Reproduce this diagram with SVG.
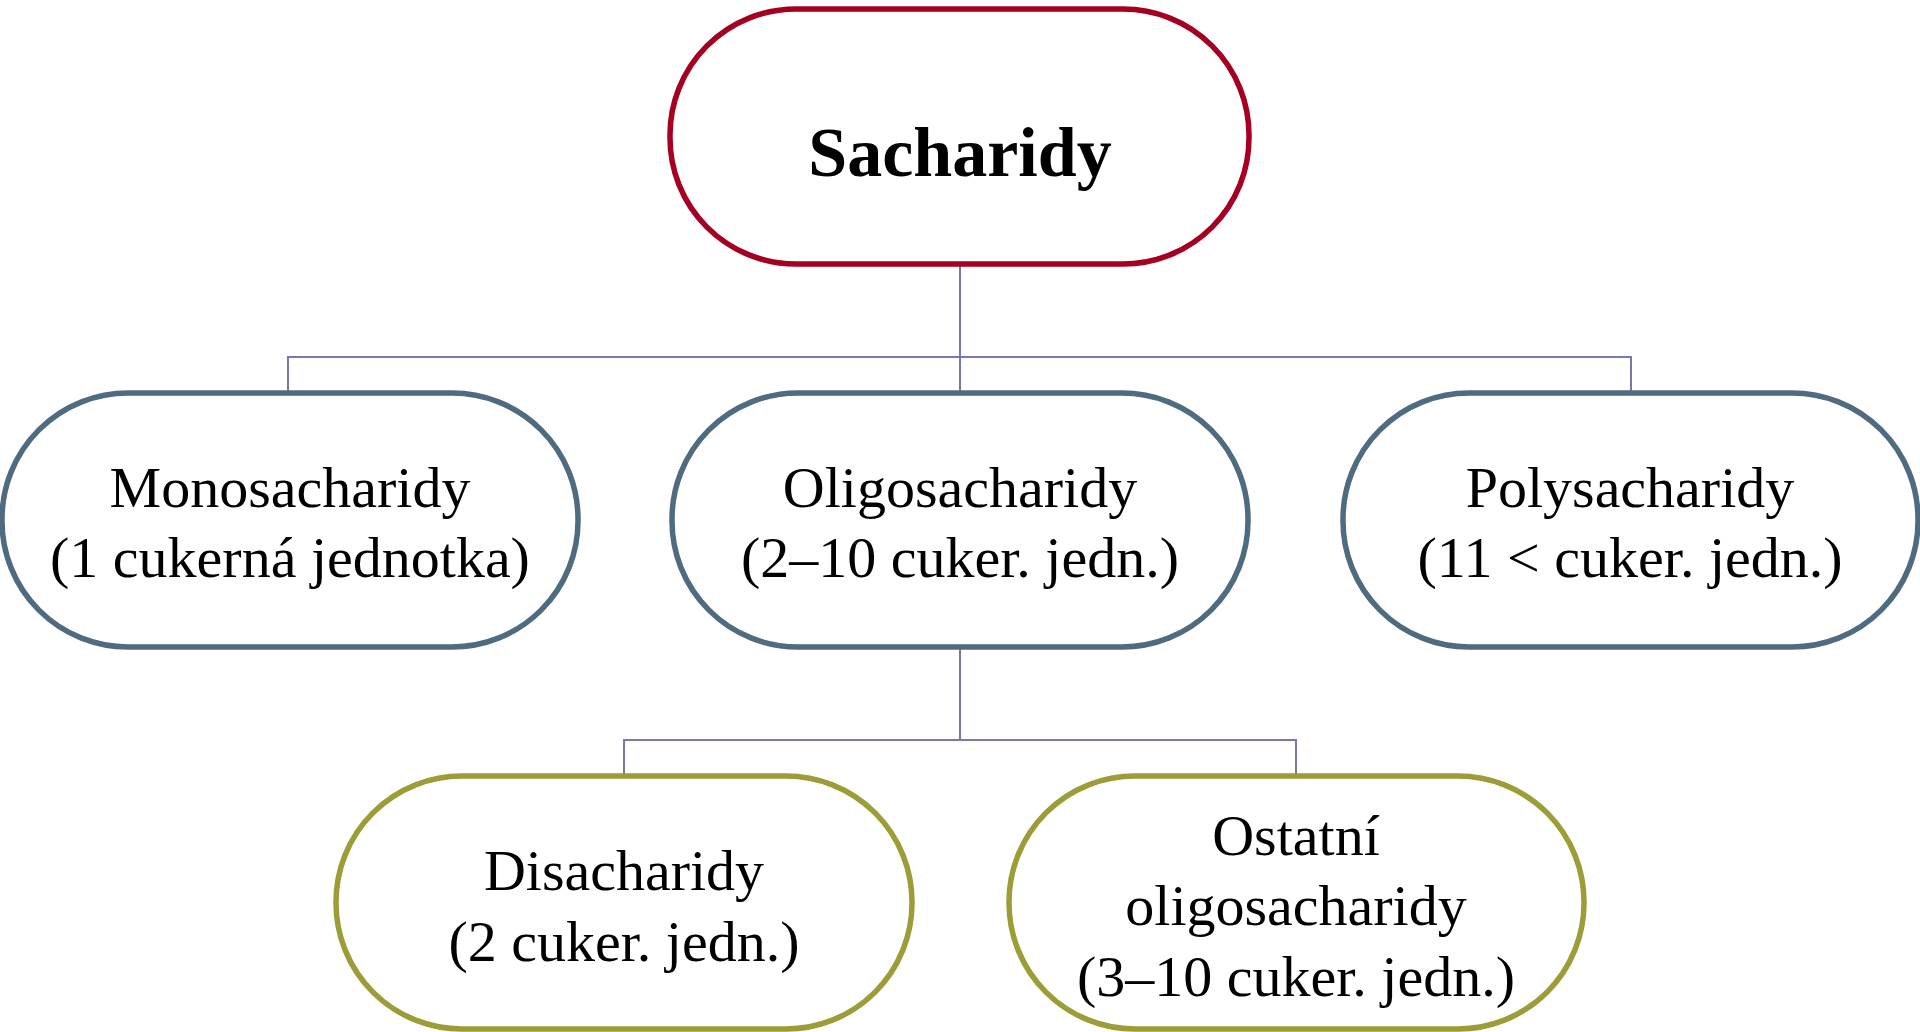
<svg xmlns="http://www.w3.org/2000/svg" width="1920" height="1032" viewBox="0 0 1920 1032">
<style>
.node{fill:#ffffff;stroke-width:5.5}
.root{stroke:#a50021}
.mid{stroke:#4e6b80}
.low{stroke:#9c9d38}
.t{font-family:"Liberation Serif","Times New Roman",serif;font-size:58px;fill:#000;text-anchor:middle}
.tb{font-family:"Liberation Serif","Times New Roman",serif;font-size:70px;font-weight:bold;fill:#000;text-anchor:middle}
.con{fill:none;stroke:#7878b0;stroke-width:2}
</style>
<rect width="1920" height="1032" fill="#ffffff"/>
<g id="connectors">
<path class="con" d="M960 264 V392 M288 392 V357 H1631 V392"/>
<path class="con" d="M960 648 V740 M624 776 V740 H1296 V776"/>
</g>
<g id="sacharidy">
<rect class="node root" x="670" y="9" width="579" height="255" rx="126" ry="126"/>
<text class="tb" x="960" y="176">Sacharidy</text>
</g>
<g id="monosacharidy">
<rect class="node mid" x="2" y="393" width="576" height="254" rx="126" ry="126"/>
<text class="t" x="290" y="507">Monosacharidy</text>
<text class="t" x="290" y="577">(1 cukerná jednotka)</text>
</g>
<g id="oligosacharidy">
<rect class="node mid" x="672" y="393" width="576" height="254" rx="126" ry="126"/>
<text class="t" x="960" y="507">Oligosacharidy</text>
<text class="t" x="960" y="577">(2–10 cuker. jedn.)</text>
</g>
<g id="polysacharidy">
<rect class="node mid" x="1343" y="393" width="575" height="254" rx="126" ry="126"/>
<text class="t" x="1630" y="507">Polysacharidy</text>
<text class="t" x="1630" y="577">(11 &lt; cuker. jedn.)</text>
</g>
<g id="disacharidy">
<rect class="node low" x="336" y="776" width="576" height="253" rx="126" ry="126"/>
<text class="t" x="624" y="890">Disacharidy</text>
<text class="t" x="624" y="961">(2 cuker. jedn.)</text>
</g>
<g id="ostatni">
<rect class="node low" x="1009" y="776" width="575" height="253" rx="126" ry="126"/>
<text class="t" x="1296" y="855">Ostatní</text>
<text class="t" x="1296" y="925">oligosacharidy</text>
<text class="t" x="1296" y="996">(3–10 cuker. jedn.)</text>
</g>
</svg>
